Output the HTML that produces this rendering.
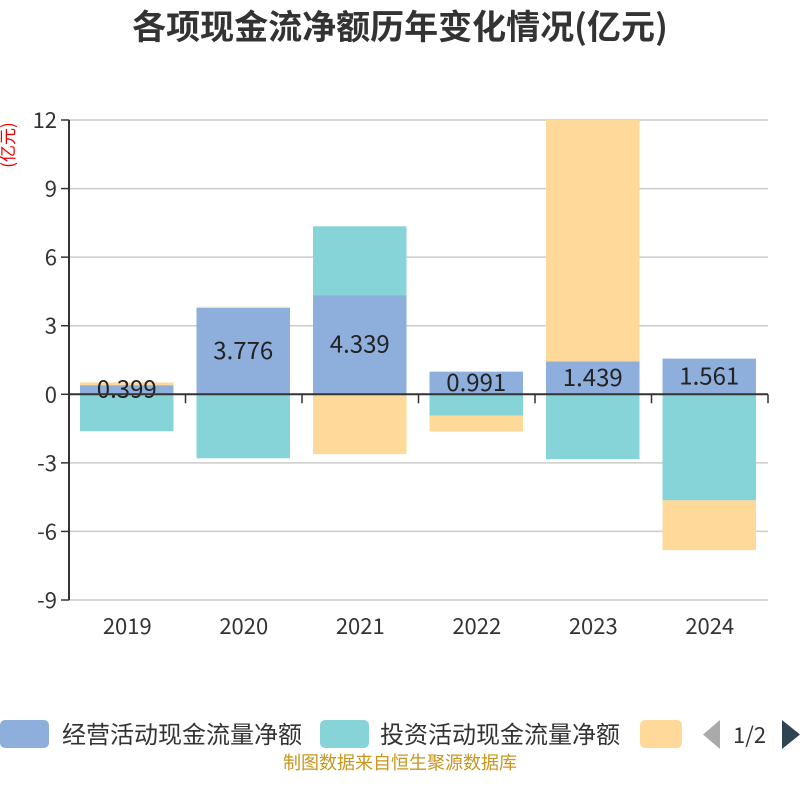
<!DOCTYPE html>
<html><head><meta charset="utf-8"><style>
body{margin:0;background:#fff;}
svg text{font-family:"Noto Sans CJK SC","Liberation Sans",sans-serif;}
</style></head><body>
<svg id="c" width="800" height="800" viewBox="0 0 800 800">
<text x="400" y="39" text-anchor="middle" font-size="34" font-weight="bold" fill="#333">各项现金流净额历年变化情况(亿元)</text>
<text transform="translate(14,145) rotate(-90)" text-anchor="middle" font-size="17" fill="#e00">(亿元)</text>
<g id="grid"></g><g id="bars"></g><g id="axes"></g>
<g>
<rect x="0" y="720" width="49" height="28" rx="5" fill="#8eaedb"/>
<text x="62" y="743" font-size="24" fill="#333">经营活动现金流量净额</text>
<rect x="320" y="720" width="49" height="28" rx="5" fill="#87d4d8"/>
<text x="380" y="743" font-size="24" fill="#333">投资活动现金流量净额</text>
<rect x="640" y="720" width="42" height="28" rx="5" fill="#fed99a"/>
<polygon points="720,720 720,749 703,734.5" fill="#aaa"/>
<text x="733" y="743" font-size="22" fill="#333">1/2</text>
<polygon points="782,720 782,749 800,734.5" fill="#2f4554"/>
</g>
<text x="400" y="769" text-anchor="middle" font-size="18" fill="#c8961e">制图数据来自恒生聚源数据库</text>
</svg>
<script>
const categories=["2019","2020","2021","2022","2023","2024"];
const operating=[0.399,3.776,4.339,0.991,1.439,1.561];
const investing=[-1.62,-2.8,3.01,-0.93,-2.84,-4.64];
const financing=[0.12,0.05,-2.62,-0.7,10.8,-2.18];
const yTicks=[12,9,6,3,0,-3,-6,-9];
const NS='http://www.w3.org/2000/svg';
const L=69,R=768,T=120,B=600,ymax=12,ymin=-9;
const y=v=>T+(ymax-v)/(ymax-ymin)*(B-T);
const bw=(R-L)/categories.length;
function mk(t,a,p){const e=document.createElementNS(NS,t);for(const k in a)e.setAttribute(k,a[k]);p.appendChild(e);return e;}
const grid=document.getElementById('grid'),bars=document.getElementById('bars'),axes=document.getElementById('axes');
yTicks.forEach(v=>{
 if(v!==0){const g=mk('line',{x1:L,x2:R,y1:y(v),y2:y(v),stroke:'#ccc','stroke-width':1.5},grid);
 
 }
 mk('line',{x1:L-8,x2:L,y1:y(v),y2:y(v),stroke:'#333','stroke-width':1.5},axes);
 const t=mk('text',{x:L-12,y:y(v)+8,'text-anchor':'end','font-size':22,fill:'#333'},axes);t.textContent=v;
 
 
});
const series=[[operating,'#8eaedb','operating'],[investing,'#87d4d8','investing'],[financing,'#fed99a','financing']];
categories.forEach((c,i)=>{
 let pos=0,neg=0;const x=L+i*bw+11,w=bw-23;
 series.forEach(([arr,col,nm])=>{
  const v=arr[i];let a,b;
  if(v>=0){a=pos;b=pos+v;pos=b;}else{a=neg;b=neg+v;neg=b;}
  const y1=Math.max(T,Math.min(y(a),y(b))),y2=Math.min(B,Math.max(y(a),y(b)));
  const r=mk('rect',{x:x,y:y1,width:w,height:Math.max(0,y2-y1),fill:col},bars);
  
  
 });
 const v=operating[i];
 const t=mk('text',{x:x+w/2,y:y(v/2)+8,'text-anchor':'middle','font-size':24,fill:'#222'},bars);t.textContent=v.toFixed(3);
 
 
 const xl=mk('text',{x:L+i*bw+bw/2,y:634,'text-anchor':'middle','font-size':22,fill:'#333'},axes);xl.textContent=c;
 
 
 if(i>0)mk('line',{x1:L+i*bw,x2:L+i*bw,y1:y(0),y2:y(0)+9,stroke:'#333','stroke-width':1.5},axes);
});
mk('line',{x1:L,x2:L,y1:T,y2:B,stroke:'#333','stroke-width':2},axes);
mk('line',{x1:L,x2:R,y1:y(0),y2:y(0),stroke:'#333','stroke-width':2},axes);
mk('line',{x1:R,x2:R,y1:y(0),y2:y(0)+9,stroke:'#333','stroke-width':1.5},axes);
</script>
</body></html>
